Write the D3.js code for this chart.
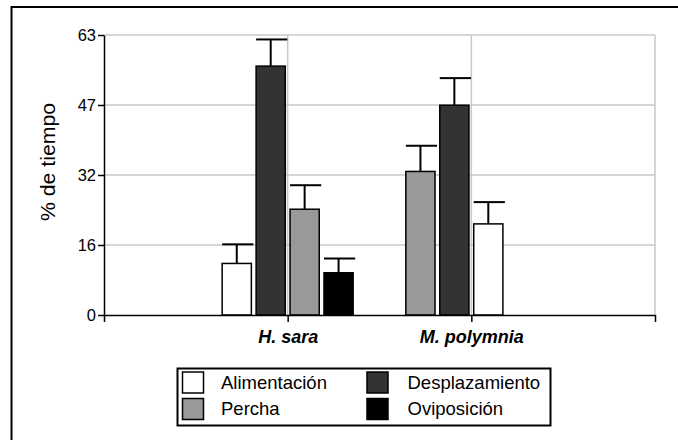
<!DOCTYPE html>
<html>
<head>
<meta charset="utf-8">
<script src="https://cdn.jsdelivr.net/npm/d3@7"></script>
<style>
  html, body { margin: 0; padding: 0; background: #fff; }
  svg { display: block; font-family: "Liberation Sans", Arial, sans-serif; }
</style>
</head>
<body>
<svg id="chart" width="678" height="440"></svg>
<script>
// ---- data ----
const categories = ["H. sara", "M. polymnia"];
const activities = ["Alimentación", "Desplazamiento", "Percha", "Oviposición"];
const activityColors = ["#ffffff", "#333333", "#999999", "#000000"];

const hSaraActivities = ["Alimentación", "Desplazamiento", "Percha", "Oviposición"];
const hSaraValues = [11.6, 56.0, 23.8, 9.5];
const hSaraErrors = [4.3, 6.0, 5.4, 3.2];

const mPolymniaActivities = ["Percha", "Desplazamiento", "Alimentación"];
const mPolymniaValues = [32.3, 47.2, 20.5];
const mPolymniaErrors = [5.8, 6.1, 4.9];

const yTickValues = [0, 15.75, 31.5, 47.25, 63];
const yTickLabels = ["0", "16", "32", "47", "63"];
const yTitle = "% de tiempo";

// ---- layout ----
const svg = d3.select("#chart");
const plotLeft = 104, plotRight = 655, plotTop = 35, plotBottom = 315;

const color = d3.scaleOrdinal().domain(activities).range(activityColors);

const xSlots = ["_start", ...categories, "_end"];
const x = d3.scalePoint().domain(xSlots).range([plotLeft, plotRight]).padding(0);
const inner = d3.scaleBand().domain([0, 1, 2, 3]).range([-65.5, 65.5]).paddingInner(0.14).paddingOuter(0);
const y = d3.scaleLinear().domain([0, 63]).range([plotBottom, plotTop]);

// outer frame
svg.append("rect").attr("x", 11.5).attr("y", 7).attr("width", 720).attr("height", 500)
  .attr("fill", "none").attr("stroke", "#000").attr("stroke-width", 2);

// gridlines
const grid = svg.append("g");
grid.selectAll("line.h").data(yTickValues.slice(1)).join("line")
  .attr("x1", plotLeft).attr("x2", plotRight)
  .attr("y1", d => y(d)).attr("y2", d => y(d))
  .attr("stroke", "#c8c8c8").attr("stroke-width", 1.5);
grid.selectAll("line.v").data(xSlots.slice(1)).join("line")
  .attr("x1", d => x(d)).attr("x2", d => x(d))
  .attr("y1", plotTop).attr("y2", plotBottom)
  .attr("stroke", "#c8c8c8").attr("stroke-width", 1.5);

// bars
const groups = [
  { cat: categories[0], acts: hSaraActivities, vals: hSaraValues, errs: hSaraErrors },
  { cat: categories[1], acts: mPolymniaActivities, vals: mPolymniaValues, errs: mPolymniaErrors }
];
const bars = [];
groups.forEach(g => g.acts.forEach((a, i) => bars.push({ cat: g.cat, act: a, slot: i, v: g.vals[i], e: g.errs[i] })));

const bw = inner.bandwidth();
const bx = d => x(d.cat) + inner(d.slot);

// error bars (drawn first, bar covers lower part)
const eb = svg.append("g").attr("stroke", "#000").attr("stroke-width", 2);
eb.selectAll("line.stem").data(bars).join("line")
  .attr("x1", d => bx(d) + bw / 2).attr("x2", d => bx(d) + bw / 2)
  .attr("y1", d => y(d.v)).attr("y2", d => y(d.v + d.e));
eb.selectAll("line.cap").data(bars).join("line")
  .attr("x1", d => bx(d)).attr("x2", d => bx(d) + bw + 2)
  .attr("y1", d => y(d.v + d.e)).attr("y2", d => y(d.v + d.e));

svg.append("g").selectAll("rect").data(bars).join("rect")
  .attr("x", d => bx(d)).attr("width", bw)
  .attr("y", d => y(d.v)).attr("height", d => y(0) - y(d.v))
  .attr("fill", d => color(d.act))
  .attr("stroke", "#000").attr("stroke-width", 1.5);

// y axis
const yAxis = svg.append("g").attr("transform", `translate(${plotLeft},0)`)
  .call(d3.axisLeft(y).tickValues(yTickValues).tickSize(6).tickSizeOuter(0).tickPadding(2)
    .tickFormat((d, i) => yTickLabels[i]));
yAxis.selectAll("path, line").attr("stroke", "#000").attr("stroke-width", 1.5);
yAxis.selectAll("text").attr("font-size", 16.5).attr("fill", "#000")
  .attr("font-family", "'Liberation Sans', Arial, sans-serif");

// x axis
const xAxis = svg.append("g").attr("transform", `translate(0,${plotBottom})`)
  .call(d3.axisBottom(x).tickSize(7).tickSizeOuter(0).tickPadding(8)
    .tickFormat(d => categories.includes(d) ? d : ""));
xAxis.selectAll("path, line").attr("stroke", "#000").attr("stroke-width", 1.5);
xAxis.selectAll("text").attr("font-size", 18).attr("font-weight", "bold").attr("font-style", "italic")
  .attr("fill", "#000").attr("font-family", "'Liberation Sans', Arial, sans-serif");

// y title
svg.append("text").attr("transform", "translate(55,162) rotate(-90)")
  .attr("text-anchor", "middle").attr("font-size", 20).attr("fill", "#000")
  .attr("textLength", 118).attr("lengthAdjust", "spacingAndGlyphs")
  .text(yTitle);

// legend
const lg = svg.append("g");
lg.append("rect").attr("x", 177.5).attr("y", 368.5).attr("width", 373).attr("height", 57)
  .attr("fill", "#fff").attr("stroke", "#000").attr("stroke-width", 2);
const legCols = [182.5, 367];
const legRows = [372, 398.5];
const textCols = [221, 407.5];
activities.forEach((a, i) => {
  const c = i % 2, r = Math.floor(i / 2);
  lg.append("rect").attr("x", legCols[c]).attr("y", legRows[r]).attr("width", 21).attr("height", 21)
    .attr("fill", color(a)).attr("stroke", "#000").attr("stroke-width", 1.5);
  lg.append("text").attr("x", textCols[c]).attr("y", legRows[r] + 16.5)
    .attr("font-size", 18.5).attr("fill", "#000").text(a);
});
</script>
</body>
</html>
